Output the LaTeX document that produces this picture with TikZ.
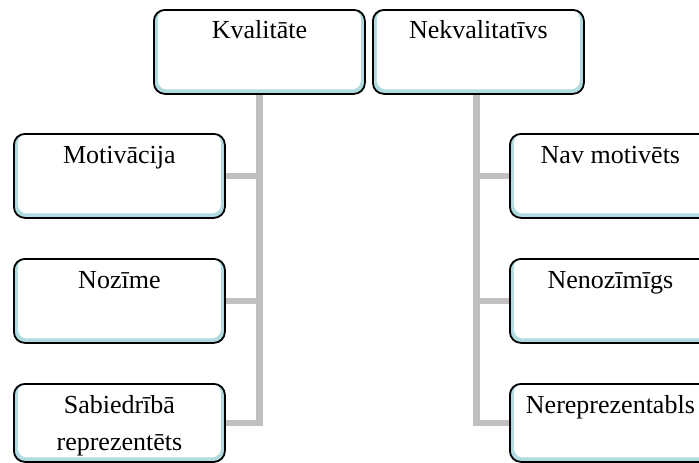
\documentclass[tikz,border=0pt]{standalone}
\usepackage{fontspec}
\setmainfont{Liberation Serif}
\usetikzlibrary{backgrounds}
\definecolor{bandblue}{HTML}{B0DBE0}
\definecolor{trunkgray}{HTML}{C0C0C0}
\tikzset{
  card/.style={draw=black, line width=1.8pt, rounded corners=11pt, fill=bandblue,
    minimum width=211pt, minimum height=84pt, inner sep=0pt, anchor=north west,
    path picture={\fill[white, rounded corners=9pt]
      ([xshift=4pt]path picture bounding box.north west) rectangle
      ([xshift=-4pt,yshift=4.5pt]path picture bounding box.south east);}},
  lowcard/.style={card, minimum height=78pt},
  cardtext/.style={anchor=base, font=\fontsize{26}{37.5}\selectfont, inner sep=0pt},
  link/.style={draw=trunkgray, line width=6.5pt}
}
\begin{document}
\begin{tikzpicture}[x=1pt, y=-1pt]
  \useasboundingbox (0,0) rectangle (699,463);
  \clip (0,0) rectangle (699,463);

  % top-level categories
  \node[card] (kval) at (153,9) {};
  \node[card] (nekval) at (372,9) {};
  \node[cardtext] (kvalT) at ([yshift=-29pt]kval.north) {Kvalitāte};
  \node[cardtext] (nekvalT) at ([yshift=-29pt]nekval.north) {Nekvalitatīvs};

  % left branch
  \node[card] (mot) at (13,133) {};
  \node[card] (noz) at (13,258) {};
  \node[lowcard] (sab) at (13,383) {};
  \node[cardtext] (motT) at ([yshift=-30pt]mot.north) {Motivācija};
  \node[cardtext] (nozT) at ([yshift=-30pt]noz.north) {Nozīme};
  \node[cardtext] (sabT) at ([yshift=-30pt]sab.north) {Sabiedrībā};
  \node[cardtext] (sabT2) at ([yshift=-37.5pt]sabT.base) {reprezentēts};

  % right branch
  \node[card] (navm) at (509,133) {};
  \node[card] (nenoz) at (509,258) {};
  \node[lowcard] (nerep) at (509,383) {};
  \node[cardtext] (navmT) at ([xshift=-5pt,yshift=-30pt]navm.north) {Nav motivēts};
  \node[cardtext] (nenozT) at ([xshift=-5pt,yshift=-30pt]nenoz.north) {Nenozīmīgs};
  \node[cardtext] (nerepT) at ([xshift=-5pt,yshift=-30pt]nerep.north) {Nereprezentabls};

  % connectors
  \begin{scope}[on background layer]
    \draw[link] (kval.south) |- (sab.east);
    \draw[link] (kval.south |- mot.east) -- (mot.east);
    \draw[link] (kval.south |- noz.east) -- (noz.east);
    \draw[link] ([xshift=-2pt]nekval.south) |- (nerep.west);
    \draw[link] ([xshift=-2pt]nekval.south |- navm.west) -- (navm.west);
    \draw[link] ([xshift=-2pt]nekval.south |- nenoz.west) -- (nenoz.west);
  \end{scope}
\end{tikzpicture}
\end{document}
